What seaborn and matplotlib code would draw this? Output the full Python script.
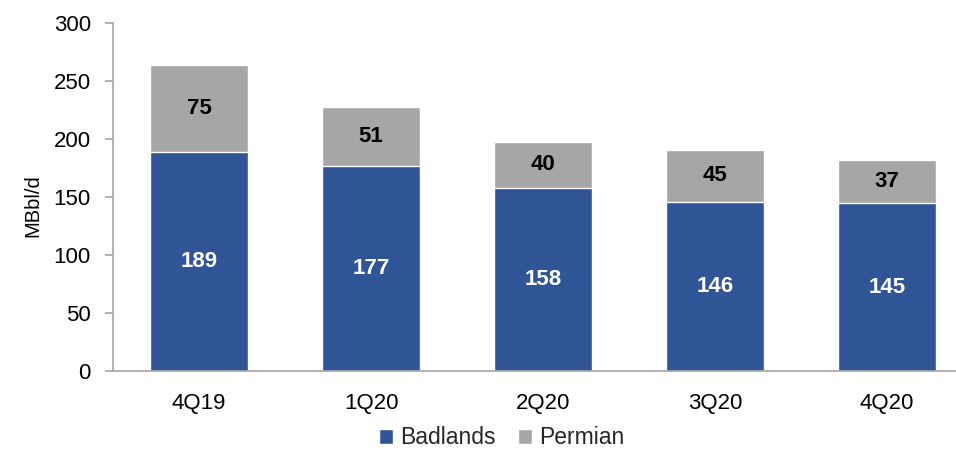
import matplotlib
matplotlib.use("Agg")
import matplotlib.pyplot as plt
from matplotlib.patches import Patch
import seaborn as sns
import pandas as pd

quarters = ["4Q19", "1Q20", "2Q20", "3Q20", "4Q20"]
badlands = [189, 177, 158, 146, 145]
permian = [75, 51, 40, 45, 37]

blue = "#2F5597"
gray = "#A6A6A6"
spine = "#A6A6A6"

sns.set_theme(style="white")
plt.rcParams["font.family"] = ["Liberation Sans", "DejaVu Sans"]

df = pd.DataFrame({"quarter": quarters, "Badlands": badlands, "Permian": permian})
df["total"] = df["Badlands"] + df["Permian"]

fig = plt.figure(figsize=(9.56, 4.51), dpi=100)
ax = fig.add_axes([113 / 956, 80 / 451, 843 / 956, 347.5 / 451])

# Stacked bars: full height in grey, Badlands portion drawn over it in blue
sns.barplot(data=df, x="quarter", y="total", color=gray, width=0.57,
            saturation=1, ax=ax, order=quarters)
sns.barplot(data=df, x="quarter", y="Badlands", color=blue, width=0.57,
            saturation=1, ax=ax, order=quarters)

for i, (b, p) in enumerate(zip(badlands, permian)):
    ax.text(i, b / 2, f"{b}", ha="center", va="center", color="white",
            fontsize=16, fontweight="bold")
    ax.text(i, b + p / 2, f"{p}", ha="center", va="center", color="black",
            fontsize=16, fontweight="bold")

ax.set_ylim(0, 300)
ax.set_yticks(range(0, 301, 50))
ax.set_xlim(-0.5, 4.40)
ax.set_xlabel("")
ax.set_ylabel("MBbl/d", fontsize=14.5, color="black")
ax.yaxis.set_label_coords(-0.084, 0.476)

for side in ["top", "right"]:
    ax.spines[side].set_visible(False)
for side in ["left", "bottom"]:
    ax.spines[side].set_color(spine)
    ax.spines[side].set_linewidth(1.2)

ax.tick_params(axis="y", which="major", left=True, length=6, width=1.2,
               color=spine, pad=10, labelsize=16, labelcolor="black")
ax.tick_params(axis="x", which="major", bottom=False, length=0, pad=16,
               labelsize=16, labelcolor="black")
ax.grid(False)

handles = [Patch(facecolor=blue, label="Badlands"),
           Patch(facecolor=gray, label="Permian")]
fig.legend(handles=handles, loc="center", bbox_to_anchor=(0.525, 13 / 451),
           ncol=2, frameon=False, fontsize=16.5, handlelength=0.6,
           handleheight=0.6, handletextpad=0.3, columnspacing=1.0)

fig.savefig("out.png", dpi=100)
